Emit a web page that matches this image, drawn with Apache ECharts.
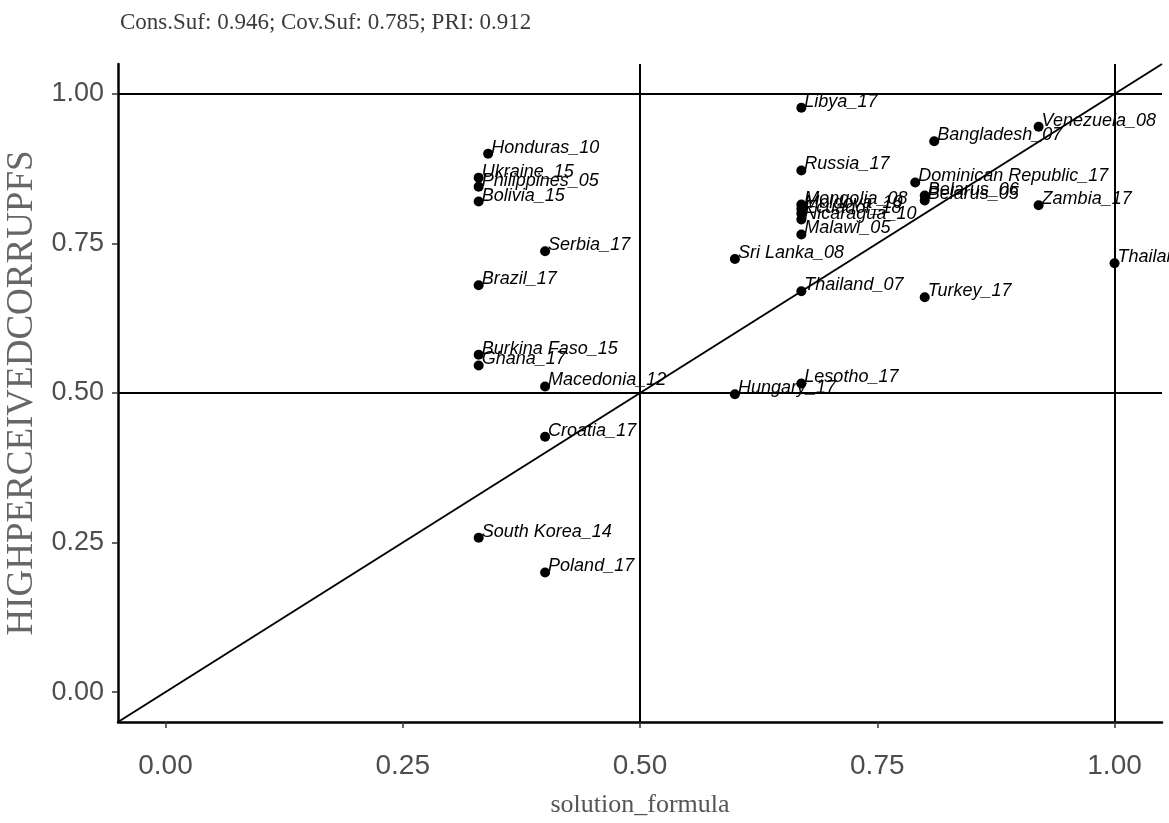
<!DOCTYPE html>
<html>
<head>
<meta charset="utf-8">
<script src="https://cdn.jsdelivr.net/npm/echarts@6/dist/echarts.min.js"></script>
<style>
html,body{margin:0;padding:0;background:#fff;}
#chart{width:1169px;height:823px;}
</style>
</head>
<body>
<div id="chart"></div>
<script>
// Case labels and their coordinates
const caseNames = [
  "Libya_17","Venezuela_08","Bangladesh_07","Honduras_10","Ukraine_15","Philippines_05","Bolivia_15",
  "Russia_17","Dominican Republic_17","Belarus_06","Belarus_05","Zambia_17","Thailand_17",
  "Mongolia_08","Moldova_10","Ecuador_18","Nicaragua_10","Malawi_05",
  "Serbia_17","Sri Lanka_08","Brazil_17","Thailand_07","Turkey_17",
  "Burkina Faso_15","Ghana_17","Macedonia_12","Hungary_17","Lesotho_17",
  "Croatia_17","South Korea_14","Poland_17"
];
const solutionFormula = [
  0.67,0.92,0.81,0.34,0.33,0.33,0.33,
  0.67,0.79,0.80,0.80,0.92,1.00,
  0.67,0.67,0.67,0.67,0.67,
  0.40,0.60,0.33,0.67,0.80,
  0.33,0.33,0.40,0.60,0.67,
  0.40,0.33,0.40
];
const highPerceivedCorrup = [
  0.977,0.945,0.921,0.900,0.860,0.845,0.820,
  0.872,0.852,0.830,0.822,0.814,0.717,
  0.815,0.808,0.800,0.790,0.765,
  0.737,0.724,0.680,0.670,0.660,
  0.564,0.546,0.511,0.498,0.516,
  0.427,0.258,0.200
];
const tickValues = [0, 0.25, 0.5, 0.75, 1];
const refX = [0.5, 1];
const refY = [0.5, 1];
const diagonal = [[-0.05, -0.05], [1.05, 1.05]];
const titleText = "Cons.Suf: 0.946; Cov.Suf: 0.785; PRI: 0.912";

const points = caseNames.map((n, i) => ({ name: n, value: [solutionFormula[i], highPerceivedCorrup[i]] }));

const chart = echarts.init(document.getElementById('chart'), null, { renderer: 'canvas' });
const tickLabelColor = '#4d4d4d';
chart.setOption({
  backgroundColor: '#ffffff',
  animation: false,
  title: {
    text: titleText,
    left: 115, top: 6,
    textStyle: { fontFamily: 'Liberation Serif', fontSize: 23, fontWeight: 'normal', color: '#3a3a3a' }
  },
  grid: { left: 118, right: 7, top: 64, bottom: 101, containLabel: false, outerBoundsMode: 'none' },
  xAxis: {
    type: 'value', min: -0.05, max: 1.05,
    name: 'solution_formula', nameLocation: 'middle', nameGap: 70,
    nameTextStyle: { fontFamily: 'Liberation Serif', fontSize: 26, color: '#555' },
    splitLine: { show: false },
    axisLine: { show: true, onZero: false, lineStyle: { color: '#000', width: 2.5 } },
    axisTick: { show: true, customValues: tickValues, length: 6, lineStyle: { color: '#333', width: 1.5 } },
    axisLabel: { customValues: tickValues, margin: 30, fontFamily: '"Liberation Sans Narrow", "Liberation Sans", Arial, sans-serif', fontSize: 28, color: tickLabelColor,
      formatter: v => v.toFixed(2) }
  },
  yAxis: {
    type: 'value', min: -0.05, max: 1.05,
    name: 'HIGHPERCEIVEDCORRUPFS', nameLocation: 'middle', nameGap: 74,
    nameTextStyle: { fontFamily: 'Liberation Serif', fontSize: 37, color: '#666' },
    splitLine: { show: false },
    axisLine: { show: true, onZero: false, lineStyle: { color: '#000', width: 2.5 } },
    axisTick: { show: true, customValues: tickValues, length: 6, lineStyle: { color: '#333', width: 1.5 } },
    axisLabel: { customValues: tickValues, margin: 14, fontFamily: '"Liberation Sans", Arial, sans-serif', fontSize: 27, color: tickLabelColor,
      formatter: v => v.toFixed(2) }
  },
  series: [
    {
      type: 'line', data: diagonal, symbol: 'none', silent: true,
      lineStyle: { color: '#000', width: 2 },
      markLine: {
        symbol: 'none', silent: true, label: { show: false },
        lineStyle: { color: '#000', width: 2, type: 'solid' },
        data: refX.map(v => ({ xAxis: v })).concat(refY.map(v => ({ yAxis: v })))
      },
      z: 1
    },
    {
      type: 'scatter', data: points, symbol: 'circle', symbolSize: 10,
      itemStyle: { color: '#000', opacity: 1 },
      label: {
        show: true, formatter: p => p.name, position: [8, -1], align: 'left', verticalAlign: 'middle',
        fontFamily: '"Liberation Sans", Arial, sans-serif', fontStyle: 'italic', fontSize: 18, color: '#000'
      },
      labelLayout: { hideOverlap: false },
      z: 3
    }
  ]
});
</script>
</body>
</html>
